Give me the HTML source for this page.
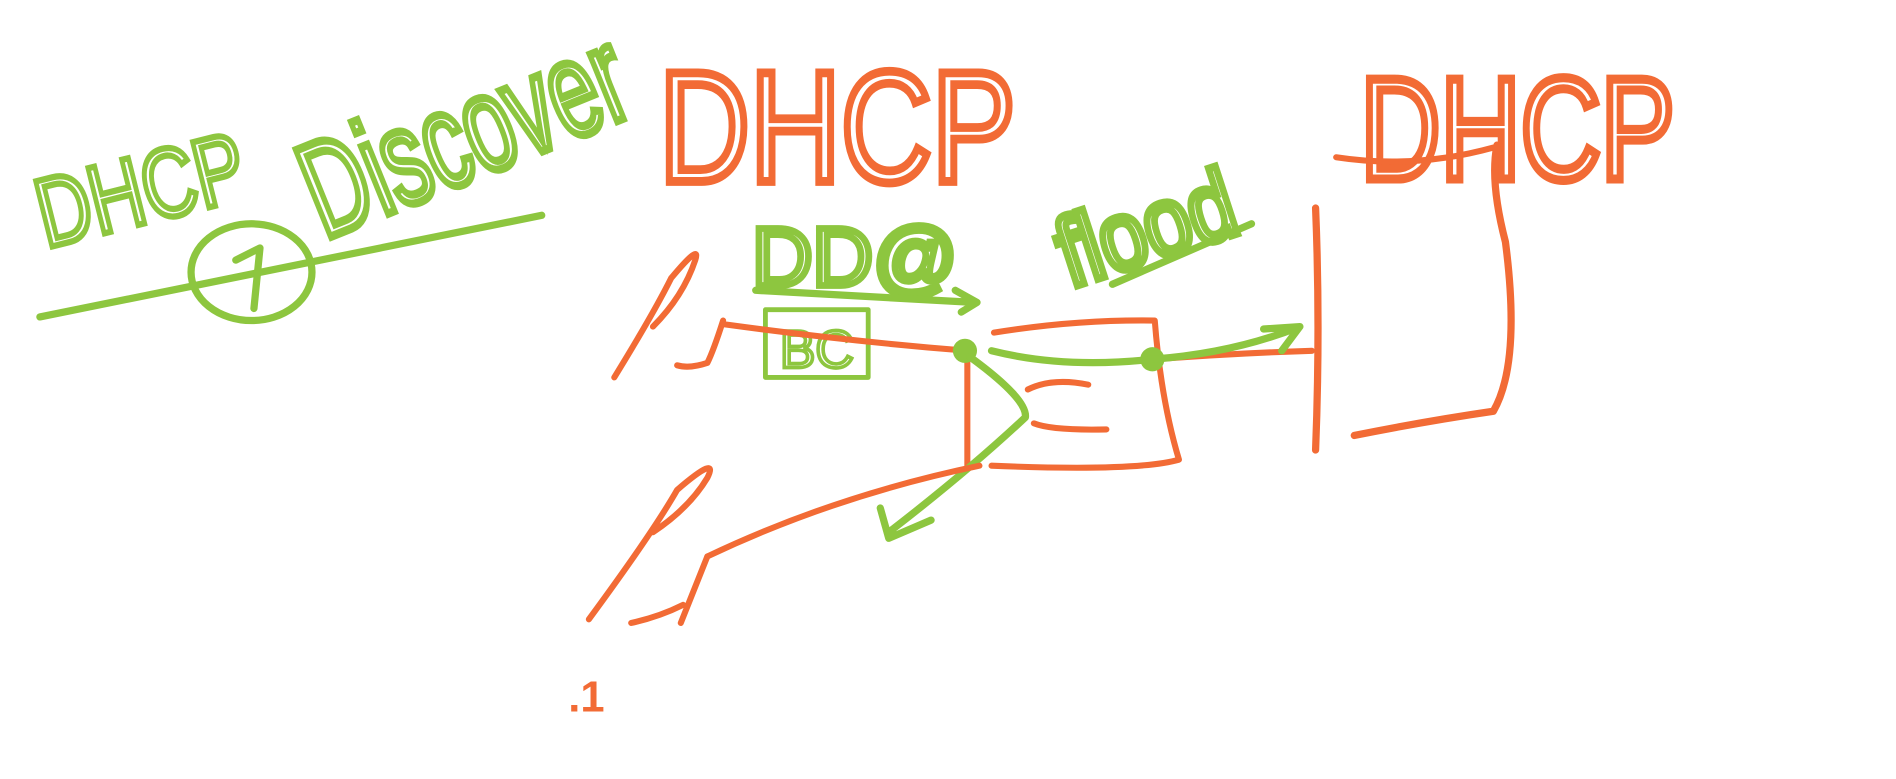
<!DOCTYPE html>
<html><head><meta charset="utf-8"><style>
html,body{margin:0;padding:0;background:#fff;width:1896px;height:779px;overflow:hidden}
svg{display:block}
text{font-family:"Liberation Sans",sans-serif}
.o{stroke:#f26b35;fill:none;stroke-width:5;stroke-linecap:round;stroke-linejoin:round}
.g{stroke:#8dc63f;fill:none;stroke-width:6;stroke-linecap:round;stroke-linejoin:round}
</style></head><body>
<svg width="1896" height="779" viewBox="0 0 1568 644" preserveAspectRatio="none">
<text x="0" y="0" transform="translate(38,205) rotate(-14) scale(1,1.3)" font-size="62" fill="none" stroke="#8dc63f" stroke-width="4" textLength="175" lengthAdjust="spacingAndGlyphs">DHCP</text>
<text x="0" y="0" transform="translate(268,198) rotate(-22) scale(1,1.4)" font-size="80" fill="none" stroke="#8dc63f" stroke-width="5" textLength="280" lengthAdjust="spacingAndGlyphs">Discover</text>
<path class="g" d="M33,262 L448,178"/>
<ellipse class="g" cx="208" cy="225" rx="50" ry="40"/>
<path class="g" d="M195,215 L215,205 L210,255"/>
<text x="0" y="0" transform="translate(545,150) scale(1,1.45)" font-size="90" fill="none" stroke="#f26b35" stroke-width="5" textLength="295" lengthAdjust="spacingAndGlyphs">DHCP</text>
<text x="0" y="0" transform="translate(1125,148) scale(1,1.5)" font-size="80" fill="none" stroke="#f26b35" stroke-width="5" textLength="260" lengthAdjust="spacingAndGlyphs">DHCP</text>
<path class="o" d="M1105,130 Q1170,140 1235,122"/>
<text x="0" y="0" transform="translate(885,238) rotate(-18) scale(1,1.3)" font-size="62" fill="none" stroke="#8dc63f" stroke-width="5" textLength="150" lengthAdjust="spacingAndGlyphs">flood</text>
<path class="g" d="M920,235 L1035,185"/>
<text x="0" y="0" transform="translate(622,236) scale(1,1.1)" font-size="62" fill="none" stroke="#8dc63f" stroke-width="5" textLength="170" lengthAdjust="spacingAndGlyphs">DD@</text>
<path class="g" d="M625,240 L805,250 M790,240 L808,250 L795,258"/>
<rect class="g" x="633" y="256" width="85" height="56" style="stroke-width:4"/>
<text x="645" y="304" font-size="44" fill="none" stroke="#8dc63f" stroke-width="3">BC</text>
<path class="o" d="M508,312 Q540,260 555,230 Q580,200 575,215 Q565,245 540,270 M598,265 Q590,290 585,300 Q570,305 560,302"/>
<path class="o" d="M598,268 Q700,282 800,290"/>
<path class="o" d="M822,275 Q890,264 955,265 Q960,330 975,380 Q940,390 820,385 M800,290 L800,385 M850,322 Q870,312 900,318 M855,350 Q870,356 915,355"/>
<path class="o" d="M955,297 Q1020,292 1085,290"/>
<path class="o" d="M1088,172 Q1092,270 1088,372 M1120,360 Q1180,348 1235,340 Q1258,300 1245,200 Q1232,150 1238,120" style="stroke-width:6"/>
<circle cx="798" cy="290" r="10" fill="#8dc63f"/>
<circle cx="953" cy="297" r="10" fill="#8dc63f"/>
<path class="g" d="M820,290 Q880,305 953,297 Q1020,292 1075,270 M1045,272 L1075,270 L1060,290"/>
<path class="g" d="M802,295 Q850,330 848,345 Q800,390 735,440 M728,420 L735,445 L770,430"/>
<path class="o" d="M487,512 Q540,440 560,405 Q595,375 585,395 Q570,420 540,440 M585,460 L563,515 M522,515 Q545,510 565,500"/>
<path class="o" d="M585,460 Q690,410 810,385"/>
<text x="470" y="588" font-size="36" font-weight="bold" fill="#f26b35">.1</text>
</svg>
</body></html>
